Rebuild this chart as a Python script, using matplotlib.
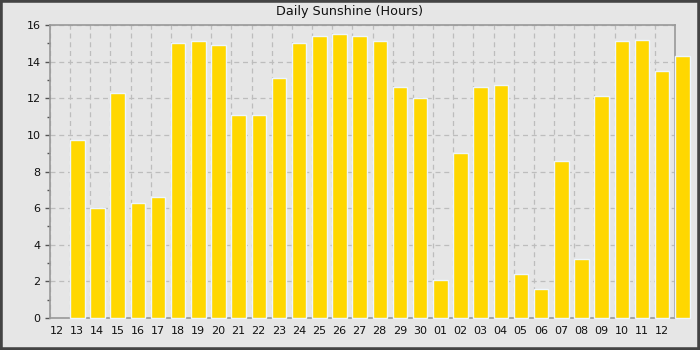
import matplotlib
matplotlib.use("Agg")
import matplotlib.pyplot as plt
from matplotlib.patches import Rectangle
from matplotlib.ticker import MultipleLocator

labels = ["12", "13", "14", "15", "16", "17", "18", "19", "20", "21", "22", "23", "24",
          "25", "26", "27", "28", "29", "30", "01", "02", "03", "04", "05", "06", "07",
          "08", "09", "10", "11", "12"]
sunshine = [9.7, 6.0, 12.3, 6.3, 6.6, 15.0, 15.1, 14.9, 11.1, 11.1, 13.1, 15.0, 15.4,
            15.5, 15.4, 15.1, 12.6, 12.0, 2.1, 9.0, 12.6, 12.7, 2.4, 1.6, 8.6, 3.2,
            12.1, 15.1, 15.2, 13.5, 14.3]

fig = plt.figure(figsize=(7, 3.5), dpi=100, facecolor="#e6e6e6")
ax = fig.add_axes([50/700, 32/350, 625/700, 293/350])
ax.set_facecolor("#e6e6e6")

xpos = list(range(1, len(sunshine) + 1))
ax.bar(xpos, sunshine, width=0.72, align="edge", color="#ffd700",
       edgecolor="#eef6ff", linewidth=1.0, clip_on=False, zorder=3)

ax.set_xlim(0, len(labels))
ax.set_ylim(0, 16)
ax.set_xticks(range(len(labels)))
ax.set_xticklabels(labels, ha="left", fontsize=8)
ax.tick_params(axis="x", length=0, pad=5.5, colors="#111111")
ax.yaxis.set_major_locator(MultipleLocator(2))
ax.yaxis.set_minor_locator(MultipleLocator(1))
ax.tick_params(axis="y", which="major", length=3.8, width=1, color="#555555", labelsize=8, pad=3,
               labelcolor="#111111")
ax.tick_params(axis="y", which="minor", length=2.2, width=1, color="#555555")
ax.grid(True, which="major", color="#bdbdbd", linestyle=(0, (4, 3)), linewidth=0.9, zorder=0)
ax.set_axisbelow(True)
for s in ax.spines.values():
    s.set_color("#999999")
    s.set_linewidth(1.2)

fig.text(0.5, 1 - 12/350, "Daily Sunshine (Hours)", ha="center", va="center", fontsize=9.2, color="#111111")

fig.patches.append(Rectangle((0, 0), 1, 1, transform=fig.transFigure, fill=False,
                             edgecolor="#444444", linewidth=4, zorder=10))

fig.savefig("out.png", dpi=100, facecolor=fig.get_facecolor())
